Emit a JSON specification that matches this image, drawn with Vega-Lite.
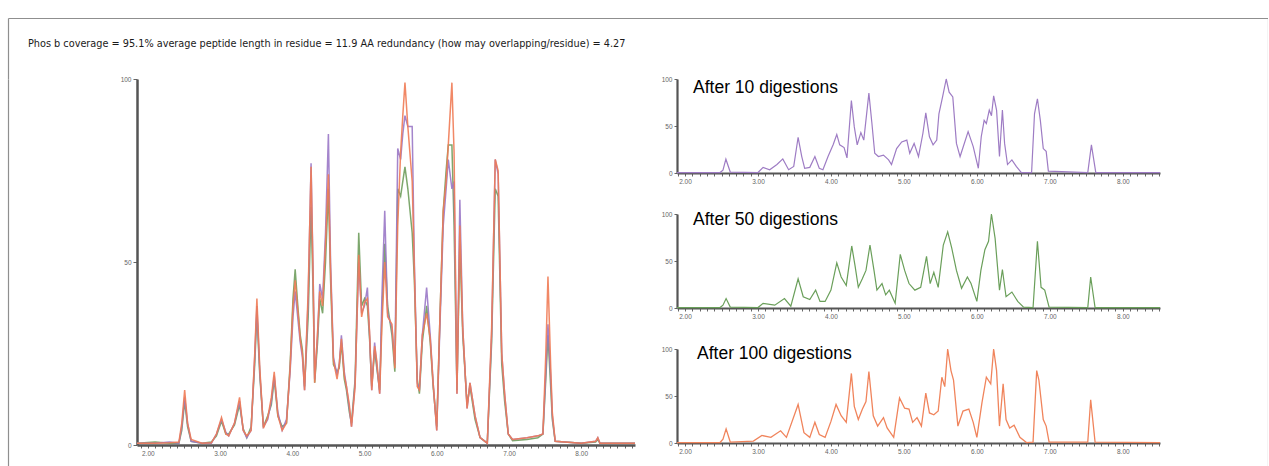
{
  "$schema": "https://vega.github.io/schema/vega-lite/v6.json",
  "padding": {"left": 8, "top": 18, "right": 0, "bottom": 0},
  "background": "white",
  "bounds": "flush",
  "spacing": 0,
  "config": {
    "view": {"stroke": null},
    "font": "Liberation Sans",
    "axis": {"labelFontSize": 6.5, "labelColor": "#666666", "domainColor": "#555555", "tickColor": "#666666", "title": null, "grid": false, "labelOverlap": false, "labelFlush": false}
  },
  "datasets": {
    "overlay": [
      {"t":1.85,"d10":0.5,"d50":0.5,"d100":0.5},
      {"t":2.10,"d10":0.5,"d50":0.8,"d100":0.5},
      {"t":2.30,"d10":0.8,"d50":0.5,"d100":0.6},
      {"t":2.43,"d10":0.5,"d50":0.5,"d100":0.8},
      {"t":2.47,"d10":5,"d50":4,"d100":6},
      {"t":2.51,"d10":13,"d50":12,"d100":15},
      {"t":2.55,"d10":6,"d50":5,"d100":6},
      {"t":2.60,"d10":1,"d50":1,"d100":1.5},
      {"t":2.75,"d10":0.5,"d50":0.5,"d100":0.5},
      {"t":2.88,"d10":0.5,"d50":0.8,"d100":0.6},
      {"t":2.95,"d10":3,"d50":2.5,"d100":3},
      {"t":3.02,"d10":7,"d50":6.5,"d100":7.5},
      {"t":3.08,"d10":3.5,"d50":3,"d100":3},
      {"t":3.12,"d10":2.5,"d50":3,"d100":2.5},
      {"t":3.20,"d10":6,"d50":5.5,"d100":6},
      {"t":3.27,"d10":12,"d50":11,"d100":13},
      {"t":3.32,"d10":4,"d50":4.5,"d100":4},
      {"t":3.37,"d10":2,"d50":2,"d100":2.5},
      {"t":3.43,"d10":4,"d50":5,"d100":4},
      {"t":3.48,"d10":24,"d50":22,"d100":25},
      {"t":3.51,"d10":38,"d50":36,"d100":40},
      {"t":3.55,"d10":20,"d50":19,"d100":21},
      {"t":3.60,"d10":5,"d50":5,"d100":4.6},
      {"t":3.66,"d10":7,"d50":8,"d100":7.5},
      {"t":3.71,"d10":12,"d50":11,"d100":13},
      {"t":3.75,"d10":19,"d50":18,"d100":20},
      {"t":3.80,"d10":9,"d50":8,"d100":8},
      {"t":3.86,"d10":4,"d50":5,"d100":4},
      {"t":3.92,"d10":7,"d50":6,"d100":6},
      {"t":3.97,"d10":20,"d50":22,"d100":21},
      {"t":4.01,"d10":35,"d50":40,"d100":38},
      {"t":4.04,"d10":42,"d50":48,"d100":45},
      {"t":4.08,"d10":34,"d50":37,"d100":36},
      {"t":4.11,"d10":28,"d50":30,"d100":29},
      {"t":4.14,"d10":24,"d50":26,"d100":25},
      {"t":4.17,"d10":15,"d50":16,"d100":15},
      {"t":4.22,"d10":40,"d50":35,"d100":42},
      {"t":4.26,"d10":77,"d50":65,"d100":76},
      {"t":4.29,"d10":45,"d50":40,"d100":44},
      {"t":4.31,"d10":18,"d50":17,"d100":17},
      {"t":4.35,"d10":30,"d50":28,"d100":31},
      {"t":4.38,"d10":44,"d50":40,"d100":42},
      {"t":4.42,"d10":40,"d50":36,"d100":38},
      {"t":4.46,"d10":58,"d50":50,"d100":55},
      {"t":4.50,"d10":85,"d50":70,"d100":74},
      {"t":4.53,"d10":50,"d50":45,"d100":48},
      {"t":4.57,"d10":24,"d50":22,"d100":23},
      {"t":4.62,"d10":19,"d50":20,"d100":18},
      {"t":4.65,"d10":22,"d50":21,"d100":22},
      {"t":4.68,"d10":30,"d50":28,"d100":29},
      {"t":4.72,"d10":20,"d50":18,"d100":19},
      {"t":4.75,"d10":16,"d50":15,"d100":16},
      {"t":4.79,"d10":10,"d50":9,"d100":11},
      {"t":4.82,"d10":5,"d50":6,"d100":5},
      {"t":4.87,"d10":17,"d50":18,"d100":16},
      {"t":4.92,"d10":50,"d50":58,"d100":52},
      {"t":4.96,"d10":36,"d50":38,"d100":35},
      {"t":5.00,"d10":38,"d50":40,"d100":39},
      {"t":5.04,"d10":43,"d50":38,"d100":40},
      {"t":5.07,"d10":30,"d50":29,"d100":31},
      {"t":5.10,"d10":15,"d50":16,"d100":15},
      {"t":5.14,"d10":28,"d50":26,"d100":27},
      {"t":5.17,"d10":22,"d50":21,"d100":23},
      {"t":5.21,"d10":14,"d50":15,"d100":14},
      {"t":5.24,"d10":40,"d50":35,"d100":32},
      {"t":5.28,"d10":64,"d50":55,"d100":50},
      {"t":5.32,"d10":36,"d50":38,"d100":35},
      {"t":5.38,"d10":32,"d50":30,"d100":33},
      {"t":5.42,"d10":22,"d50":20,"d100":21},
      {"t":5.46,"d10":81,"d50":70,"d100":60},
      {"t":5.50,"d10":78,"d50":68,"d100":80},
      {"t":5.53,"d10":85,"d50":72,"d100":90},
      {"t":5.56,"d10":90,"d50":76,"d100":99},
      {"t":5.60,"d10":87,"d50":70,"d100":87},
      {"t":5.66,"d10":87,"d50":58,"d100":72},
      {"t":5.69,"d10":50,"d50":45,"d100":48},
      {"t":5.73,"d10":17,"d50":18,"d100":16},
      {"t":5.76,"d10":15,"d50":14,"d100":15},
      {"t":5.80,"d10":30,"d50":28,"d100":30},
      {"t":5.86,"d10":43,"d50":38,"d100":36},
      {"t":5.91,"d10":30,"d50":28,"d100":29},
      {"t":5.95,"d10":17,"d50":16,"d100":17},
      {"t":6.00,"d10":4,"d50":5,"d100":4},
      {"t":6.04,"d10":30,"d50":32,"d100":32},
      {"t":6.09,"d10":60,"d50":64,"d100":64},
      {"t":6.13,"d10":70,"d50":75,"d100":72},
      {"t":6.16,"d10":78,"d50":82,"d100":82},
      {"t":6.21,"d10":70,"d50":82,"d100":99},
      {"t":6.24,"d10":72,"d50":60,"d100":80},
      {"t":6.28,"d10":14,"d50":15,"d100":14},
      {"t":6.32,"d10":67,"d50":55,"d100":60},
      {"t":6.36,"d10":32,"d50":30,"d100":32},
      {"t":6.42,"d10":10,"d50":11,"d100":10},
      {"t":6.46,"d10":17,"d50":16,"d100":17},
      {"t":6.53,"d10":8,"d50":7,"d100":8},
      {"t":6.60,"d10":2,"d50":2,"d100":2},
      {"t":6.70,"d10":0.5,"d50":0.5,"d100":0.5},
      {"t":6.76,"d10":30,"d50":28,"d100":32},
      {"t":6.81,"d10":78,"d50":70,"d100":78},
      {"t":6.85,"d10":74,"d50":68,"d100":75},
      {"t":6.90,"d10":25,"d50":22,"d100":25},
      {"t":6.94,"d10":14,"d50":12,"d100":14},
      {"t":6.99,"d10":3,"d50":3,"d100":3},
      {"t":7.05,"d10":1.5,"d50":1.2,"d100":1.5},
      {"t":7.25,"d10":2,"d50":1.5,"d100":2},
      {"t":7.40,"d10":2.5,"d50":2,"d100":2.5},
      {"t":7.47,"d10":3,"d50":3,"d100":3},
      {"t":7.51,"d10":20,"d50":18,"d100":25},
      {"t":7.54,"d10":33,"d50":30,"d100":46},
      {"t":7.58,"d10":18,"d50":15,"d100":20},
      {"t":7.60,"d10":8,"d50":7,"d100":9},
      {"t":7.64,"d10":1,"d50":1,"d100":1},
      {"t":8.00,"d10":0.5,"d50":0.5,"d100":0.5},
      {"t":8.20,"d10":1,"d50":0.8,"d100":1},
      {"t":8.23,"d10":2,"d50":1.5,"d100":2},
      {"t":8.26,"d10":0.5,"d50":0.5,"d100":0.5},
      {"t":8.745,"d10":0.5,"d50":0.5,"d100":0.5}
    ],
    "p10": [
      {"t":1.89,"v":0.5},{"t":2.48,"v":0.5},{"t":2.52,"v":3},{"t":2.56,"v":14.7},{"t":2.62,"v":1},
      {"t":3.00,"v":0.5},{"t":3.07,"v":6},{"t":3.16,"v":3.5},{"t":3.26,"v":9},{"t":3.34,"v":15},
      {"t":3.42,"v":3.5},{"t":3.49,"v":7},{"t":3.55,"v":38},{"t":3.60,"v":17.5},{"t":3.64,"v":5},
      {"t":3.71,"v":6},{"t":3.78,"v":17.5},{"t":3.84,"v":5},{"t":3.89,"v":3.5},{"t":3.96,"v":17.5},
      {"t":4.03,"v":30},{"t":4.08,"v":41},{"t":4.12,"v":30},{"t":4.18,"v":27},{"t":4.22,"v":16},
      {"t":4.28,"v":77},{"t":4.32,"v":49},{"t":4.36,"v":30},{"t":4.41,"v":43},{"t":4.45,"v":35},
      {"t":4.52,"v":85},{"t":4.56,"v":54},{"t":4.60,"v":21},{"t":4.65,"v":17.5},{"t":4.72,"v":19},
      {"t":4.79,"v":14},{"t":4.83,"v":9},{"t":4.90,"v":26},{"t":4.97,"v":33},{"t":5.04,"v":35},
      {"t":5.08,"v":21},{"t":5.14,"v":31.5},{"t":5.20,"v":17.5},{"t":5.26,"v":42},{"t":5.30,"v":64},
      {"t":5.35,"v":38.6},{"t":5.40,"v":30},{"t":5.45,"v":35},{"t":5.48,"v":63},{"t":5.53,"v":81},
      {"t":5.58,"v":100},{"t":5.62,"v":86},{"t":5.67,"v":81},{"t":5.72,"v":31.5},{"t":5.77,"v":17.5},
      {"t":5.88,"v":44},{"t":5.95,"v":28},{"t":6.02,"v":5},{"t":6.06,"v":38.6},{"t":6.10,"v":56},
      {"t":6.13,"v":52.6},{"t":6.17,"v":67},{"t":6.20,"v":61},{"t":6.23,"v":82},{"t":6.27,"v":67},
      {"t":6.31,"v":17.5},{"t":6.35,"v":67},{"t":6.38,"v":31.5},{"t":6.42,"v":9},{"t":6.48,"v":14},
      {"t":6.54,"v":7},{"t":6.61,"v":0.5},{"t":6.75,"v":0.5},{"t":6.79,"v":63},{"t":6.83,"v":79},
      {"t":6.87,"v":56},{"t":6.91,"v":26},{"t":6.95,"v":23},{"t":6.98,"v":2},{"t":7.52,"v":0.5},
      {"t":7.57,"v":30},{"t":7.63,"v":0.5},{"t":8.51,"v":0.5}
    ],
    "p50": [
      {"t":1.89,"v":0.5},{"t":2.48,"v":0.5},{"t":2.52,"v":3},{"t":2.563,"v":10},{"t":2.62,"v":1},
      {"t":3.00,"v":0.5},{"t":3.07,"v":5},{"t":3.23,"v":3},{"t":3.363,"v":10},{"t":3.45,"v":2},
      {"t":3.55,"v":31},{"t":3.62,"v":12},{"t":3.71,"v":9},{"t":3.79,"v":19},{"t":3.85,"v":7},
      {"t":3.92,"v":7},{"t":4.00,"v":19},{"t":4.08,"v":48},{"t":4.14,"v":33},{"t":4.21,"v":24},
      {"t":4.285,"v":66},{"t":4.33,"v":45},{"t":4.375,"v":22},{"t":4.43,"v":31},{"t":4.48,"v":40},
      {"t":4.535,"v":67},{"t":4.59,"v":40},{"t":4.63,"v":19},{"t":4.70,"v":26},{"t":4.75,"v":14},
      {"t":4.80,"v":19},{"t":4.88,"v":5},{"t":4.95,"v":57},{"t":5.01,"v":40},{"t":5.07,"v":26},
      {"t":5.15,"v":19},{"t":5.23,"v":22},{"t":5.31,"v":55},{"t":5.36,"v":26},{"t":5.41,"v":38},
      {"t":5.47,"v":22},{"t":5.54,"v":67},{"t":5.60,"v":81},{"t":5.655,"v":64},{"t":5.72,"v":40},
      {"t":5.79,"v":21},{"t":5.87,"v":33},{"t":5.92,"v":26},{"t":6.00,"v":7},{"t":6.055,"v":40},
      {"t":6.11,"v":62},{"t":6.16,"v":71},{"t":6.20,"v":100},{"t":6.25,"v":74},{"t":6.31,"v":19},
      {"t":6.35,"v":41},{"t":6.40,"v":12},{"t":6.48,"v":17},{"t":6.56,"v":7},{"t":6.64,"v":1},
      {"t":6.77,"v":0.5},{"t":6.83,"v":71},{"t":6.88,"v":22},{"t":6.93,"v":19},{"t":6.99,"v":1},
      {"t":7.52,"v":0.5},{"t":7.56,"v":33},{"t":7.62,"v":0.5},{"t":8.51,"v":0.5}
    ],
    "p100": [
      {"t":1.89,"v":0.5},{"t":2.48,"v":0.5},{"t":2.52,"v":4},{"t":2.563,"v":15},{"t":2.62,"v":1},
      {"t":2.937,"v":2},{"t":3.054,"v":8},{"t":3.177,"v":6},{"t":3.31,"v":13},{"t":3.39,"v":6},
      {"t":3.55,"v":41},{"t":3.63,"v":11},{"t":3.71,"v":6},{"t":3.78,"v":22},{"t":3.84,"v":9},
      {"t":3.92,"v":6},{"t":4.00,"v":23},{"t":4.07,"v":41},{"t":4.14,"v":29},{"t":4.21,"v":22},
      {"t":4.28,"v":74},{"t":4.32,"v":39},{"t":4.375,"v":25},{"t":4.43,"v":36},{"t":4.48,"v":44},
      {"t":4.52,"v":76},{"t":4.58,"v":29},{"t":4.64,"v":18},{"t":4.72,"v":27},{"t":4.77,"v":16},
      {"t":4.86,"v":6},{"t":4.94,"v":48},{"t":5.01,"v":37},{"t":5.07,"v":36},{"t":5.12,"v":22},
      {"t":5.18,"v":27},{"t":5.24,"v":18},{"t":5.30,"v":53},{"t":5.35,"v":32},{"t":5.41,"v":30},
      {"t":5.47,"v":34},{"t":5.52,"v":70},{"t":5.56,"v":60},{"t":5.60,"v":100},{"t":5.645,"v":77},
      {"t":5.68,"v":67},{"t":5.74,"v":18},{"t":5.81,"v":34},{"t":5.89,"v":36},{"t":5.95,"v":22},
      {"t":6.00,"v":6},{"t":6.07,"v":43},{"t":6.13,"v":70},{"t":6.19,"v":63},{"t":6.23,"v":100},
      {"t":6.27,"v":77},{"t":6.31,"v":18},{"t":6.36,"v":63},{"t":6.40,"v":25},{"t":6.45,"v":16},
      {"t":6.51,"v":19},{"t":6.59,"v":6},{"t":6.68,"v":0.5},{"t":6.77,"v":1},{"t":6.82,"v":77},
      {"t":6.85,"v":67},{"t":6.91,"v":25},{"t":6.95,"v":18},{"t":6.99,"v":1},{"t":7.52,"v":1},
      {"t":7.56,"v":46},{"t":7.62,"v":1},{"t":8.51,"v":0.5}
    ]
  },
  "vconcat": [
    {
      "width": 1260,
      "height": 61,
      "title": {
        "text": "Phos b coverage = 95.1% average peptide length in residue = 11.9 AA redundancy (how may overlapping/residue) = 4.27",
        "anchor": "start", "frame": "group", "orient": "top", "offset": -42, "dx": 20,
        "fontSize": 10.8, "fontWeight": "normal", "font": "DejaVu Sans Condensed, sans-serif",
        "color": "#1a1a1a", "baseline": "bottom"
      },
      "resolve": {"scale": {"y": "independent"}, "axis": {"y": "independent"}},
      "layer": [
        {"data": {"values": []}, "mark": "point",
         "encoding": {
           "x": {"field": "a", "type": "quantitative", "scale": {"domain": [0, 1]}, "axis": {"orient": "top", "ticks": false, "labels": false, "domainColor": "#8f8f8f", "domainWidth": 1.2}},
           "y": {"field": "b", "type": "quantitative", "scale": {"domain": [0, 1]}, "axis": {"orient": "left", "ticks": false, "labels": false, "domainColor": "#8f8f8f", "domainWidth": 1.2}}
         }},
        {"data": {"values": []}, "mark": "point",
         "encoding": {
           "y": {"field": "c", "type": "quantitative", "scale": {"domain": [0, 1]}, "axis": {"orient": "right", "ticks": false, "labels": false, "domainColor": "#8f8f8f", "domainWidth": 1.2}}
         }}
      ]
    },
    {
      "bounds": "flush",
      "spacing": 42,
      "hconcat": [
        {"width": 87, "height": 392, "data": {"values": []}, "mark": "point",
         "encoding": {"y": {"field": "b", "type": "quantitative", "scale": {"domain": [0, 1]}, "axis": {"orient": "left", "ticks": false, "labels": false, "domainColor": "#8f8f8f", "domainWidth": 1.2}}}},
        {
          "width": 498,
          "height": 366,
          "data": {"name": "overlay"},
          "encoding": {
            "x": {"field": "t", "type": "quantitative", "scale": {"domain": [1.85, 8.745], "nice": false, "zero": false},
              "axis": {"values": [1.9,2,2.1,2.2,2.3,2.4,2.5,2.6,2.7,2.8,2.9,3,3.1,3.2,3.3,3.4,3.5,3.6,3.7,3.8,3.9,4,4.1,4.2,4.3,4.4,4.5,4.6,4.7,4.8,4.9,5,5.1,5.2,5.3,5.4,5.5,5.6,5.7,5.8,5.9,6,6.1,6.2,6.3,6.4,6.5,6.6,6.7,6.8,6.9,7,7.1,7.2,7.3,7.4,7.5,7.6,7.7,7.8,7.9,8,8.1,8.2,8.3,8.4,8.5,8.6,8.7],
                "labelExpr": "abs(datum.value - round(datum.value)) < 0.01 ? format(datum.value, '.2f') : ''",
                "domainWidth": 2.5, "tickSize": 3, "tickWidth": 1, "labelPadding": 2}}
          },
          "layer": [
            {"mark": {"type": "line", "color": "#6f9d5d", "strokeWidth": 1.5, "opacity": 0.9},
             "encoding": {"y": {"field": "d50", "type": "quantitative", "scale": {"domain": [0, 100], "nice": false},
               "axis": {"values": [0, 50, 100], "domainWidth": 2.5, "tickSize": 4, "labelPadding": 2}}}},
            {"mark": {"type": "line", "color": "#9a78c6", "strokeWidth": 1.5, "opacity": 0.9},
             "encoding": {"y": {"field": "d10", "type": "quantitative"}}},
            {"mark": {"type": "line", "color": "#ef7b55", "strokeWidth": 1.5, "opacity": 0.9},
             "encoding": {"y": {"field": "d100", "type": "quantitative"}}}
          ]
        },
        {
          "bounds": "flush",
          "spacing": 41,
          "vconcat": [
            {
              "width": 483, "height": 94,
              "title": {"text": "After 10 digestions", "anchor": "start", "frame": "group", "orient": "top", "offset": -38.4, "dx": 16, "fontSize": 17.5, "fontWeight": "normal", "font": "Liberation Sans", "color": "#000000", "baseline": "bottom"},
              "data": {"name": "p10"},
              "mark": {"type": "line", "color": "#9e7cc4", "strokeWidth": 1.2},
              "encoding": {
                "x": {"field": "t", "type": "quantitative", "scale": {"domain": [1.89, 8.51], "nice": false, "zero": false},
                  "axis": {"values": [1.9,2,2.1,2.2,2.3,2.4,2.5,2.6,2.7,2.8,2.9,3,3.1,3.2,3.3,3.4,3.5,3.6,3.7,3.8,3.9,4,4.1,4.2,4.3,4.4,4.5,4.6,4.7,4.8,4.9,5,5.1,5.2,5.3,5.4,5.5,5.6,5.7,5.8,5.9,6,6.1,6.2,6.3,6.4,6.5,6.6,6.7,6.8,6.9,7,7.1,7.2,7.3,7.4,7.5,7.6,7.7,7.8,7.9,8,8.1,8.2,8.3,8.4,8.5],
                    "labelExpr": "abs(datum.value - round(datum.value)) < 0.01 ? format(datum.value, '.2f') : ''",
                    "domainWidth": 2.2, "tickSize": 3, "tickWidth": 1, "labelPadding": 2}},
                "y": {"field": "v", "type": "quantitative", "scale": {"domain": [0, 100], "nice": false},
                  "axis": {"values": [0, 50, 100], "domainWidth": 2.2, "tickSize": 3, "labelPadding": 2}}
              }
            },
            {
              "width": 483, "height": 94,
              "title": {"text": "After 50 digestions", "anchor": "start", "frame": "group", "orient": "top", "offset": -35.4, "dx": 16, "fontSize": 17.5, "fontWeight": "normal", "font": "Liberation Sans", "color": "#000000", "baseline": "bottom"},
              "data": {"name": "p50"},
              "mark": {"type": "line", "color": "#6a9f5a", "strokeWidth": 1.2},
              "encoding": {
                "x": {"field": "t", "type": "quantitative", "scale": {"domain": [1.89, 8.51], "nice": false, "zero": false},
                  "axis": {"values": [1.9,2,2.1,2.2,2.3,2.4,2.5,2.6,2.7,2.8,2.9,3,3.1,3.2,3.3,3.4,3.5,3.6,3.7,3.8,3.9,4,4.1,4.2,4.3,4.4,4.5,4.6,4.7,4.8,4.9,5,5.1,5.2,5.3,5.4,5.5,5.6,5.7,5.8,5.9,6,6.1,6.2,6.3,6.4,6.5,6.6,6.7,6.8,6.9,7,7.1,7.2,7.3,7.4,7.5,7.6,7.7,7.8,7.9,8,8.1,8.2,8.3,8.4,8.5],
                    "labelExpr": "abs(datum.value - round(datum.value)) < 0.01 ? format(datum.value, '.2f') : ''",
                    "domainWidth": 2.2, "tickSize": 3, "tickWidth": 1, "labelPadding": 2}},
                "y": {"field": "v", "type": "quantitative", "scale": {"domain": [0, 100], "nice": false},
                  "axis": {"values": [0, 50, 100], "domainWidth": 2.2, "tickSize": 3, "labelPadding": 2}}
              }
            },
            {
              "width": 483, "height": 94,
              "title": {"text": "After 100 digestions", "anchor": "start", "frame": "group", "orient": "top", "offset": -34.4, "dx": 20, "fontSize": 17.5, "fontWeight": "normal", "font": "Liberation Sans", "color": "#000000", "baseline": "bottom"},
              "data": {"name": "p100"},
              "mark": {"type": "line", "color": "#f0845c", "strokeWidth": 1.3},
              "encoding": {
                "x": {"field": "t", "type": "quantitative", "scale": {"domain": [1.89, 8.51], "nice": false, "zero": false},
                  "axis": {"values": [1.9,2,2.1,2.2,2.3,2.4,2.5,2.6,2.7,2.8,2.9,3,3.1,3.2,3.3,3.4,3.5,3.6,3.7,3.8,3.9,4,4.1,4.2,4.3,4.4,4.5,4.6,4.7,4.8,4.9,5,5.1,5.2,5.3,5.4,5.5,5.6,5.7,5.8,5.9,6,6.1,6.2,6.3,6.4,6.5,6.6,6.7,6.8,6.9,7,7.1,7.2,7.3,7.4,7.5,7.6,7.7,7.8,7.9,8,8.1,8.2,8.3,8.4,8.5],
                    "labelExpr": "abs(datum.value - round(datum.value)) < 0.01 ? format(datum.value, '.2f') : ''",
                    "domainWidth": 2.2, "tickSize": 3, "tickWidth": 1, "labelPadding": 2}},
                "y": {"field": "v", "type": "quantitative", "scale": {"domain": [0, 100], "nice": false},
                  "axis": {"values": [0, 50, 100], "domainWidth": 2.2, "tickSize": 3, "labelPadding": 2}}
              }
            }
          ]
        },
        {"width": 549, "height": 392, "data": {"values": []}, "mark": "point",
         "encoding": {"y": {"field": "b", "type": "quantitative", "scale": {"domain": [0, 1]}, "axis": {"orient": "right", "ticks": false, "labels": false, "domainColor": "#8f8f8f", "domainWidth": 1.2}}}}
      ]
    }
  ]
}
